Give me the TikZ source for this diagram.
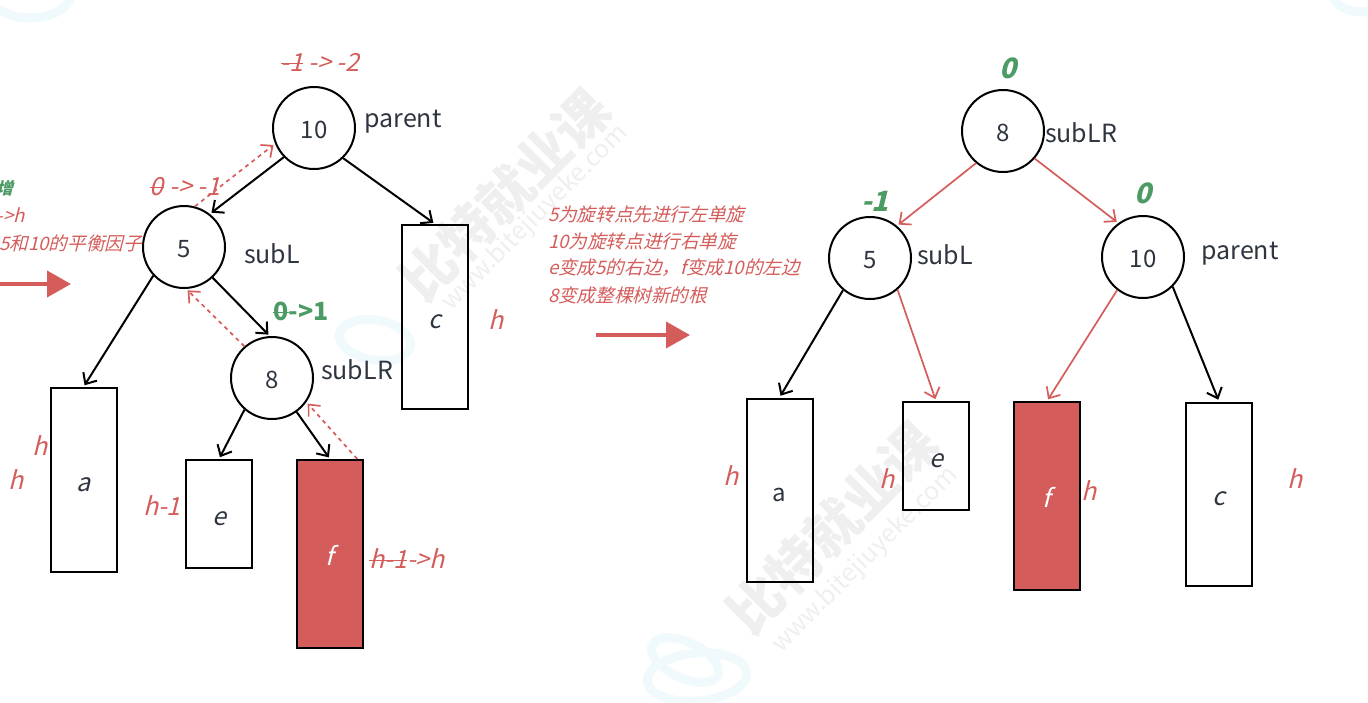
\documentclass[tikz,border=0pt]{standalone}
\usepackage{fontspec}
\setmainfont{Noto Sans CJK SC}
\newfontfamily\slanted[FakeSlant=0.25]{Noto Sans CJK SC}
\usetikzlibrary{arrows.meta, positioning, calc}
\definecolor{cred}{HTML}{D45D5B}
\definecolor{cgreen}{HTML}{4C9A64}
\definecolor{cink}{HTML}{2F3540}
\definecolor{cmark}{HTML}{EFEFEF}
\definecolor{cblob}{HTML}{F0F9FC}
\newcommand{\strk}[1]{\setbox0\hbox{#1}\rlap{\raisebox{0.3em}{\rule{\wd0}{1pt}}}#1}
\tikzset{
  every picture/.style={x=1pt, y=-1pt, line width=2pt},
  roundnode/.style={draw=black, circle, minimum size=82pt, inner sep=0pt, text=cink, text height=20pt, text depth=0pt, font=\fontsize{24}{28}\selectfont},
  block/.style={draw=black, minimum width=66pt, inner sep=0pt, text=cink, text height=22pt, text depth=0pt, font=\slanted\fontsize{25}{28}\selectfont},
  hot/.style={block, fill=cred, text=white},
  tag/.style={text=cink, inner sep=0pt, font=\fontsize{25}{28}\selectfont},
  note/.style={text=cred, inner sep=0pt, font=\slanted\fontsize{25}{28}\selectfont},
  smallnote/.style={text=cred, inner sep=0pt, anchor=west, font=\slanted\fontsize{18.6}{22}\selectfont},
  factor/.style={text=cgreen, inner sep=0pt, font=\slanted\bfseries\fontsize{28}{30}\selectfont},
  link/.style={-{Straight Barb[length=9pt, width=16pt]}, draw=black, shorten >=2pt},
  linkred/.style={link, draw=cred, line width=1.7pt},
  back/.style={link, draw=cred, line width=1.7pt, dash pattern=on 4pt off 4pt},
  fat/.style={-{Triangle[length=24pt, width=26pt]}, draw=cred, line width=4pt},
  wmark/.style={text=cmark, rotate=45, inner sep=0pt, font=\bfseries\fontsize{54}{60}\selectfont},
  wmurl/.style={text=cmark, rotate=45, inner sep=0pt, font=\fontsize{25}{28}\selectfont},
  blob/.style={draw=cblob, line width=9pt},
}
\begin{document}
\begin{tikzpicture}
  \useasboundingbox (0,0) rectangle (1368,702);

  % watermark
  \draw[blob, rotate around={-10:(375,340)}] (375,340) ellipse (36 and 20);
  \draw[blob, rotate around={-25:(685,660)}] (685,660) ellipse (36 and 18);
  \draw[blob, rotate around={5:(697,677)}] (697,677) ellipse (50 and 24);
  \draw[blob] (30,-8) ellipse (42 and 26);
  \draw[blob] (1362,-8) ellipse (30 and 20);
  \node[wmark] (m1) at (505,195) {比特就业课};
  \node[wmurl] (u1) at (535,218) {www.bitejiuyeke.com};
  \node[wmark] (m2) at (832,528) {比特就业课};
  \node[wmurl] (u2) at (865,560) {www.bitejiuyeke.com};

  % before
  \node[roundnode] (a10) at (314,128) {10};
  \node[roundnode] (a5) at (184,247) {5};
  \node[roundnode] (a8) at (272,378) {8};
  \node[block, minimum height=184pt] (aa) at (83.5,480) {a};
  \node[block, minimum height=108pt] (ae) at (219,514) {e};
  \node[hot, minimum height=188pt] (af) at (330,554) {f};
  \node[block, minimum height=184pt] (ac) at (435,317) {c};

  \node[tag] (tparent) at (403,122) {parent};
  \node[tag] (tsubl) at (272,254) {subL};
  \node[tag] (tsublr) at (357,370) {subLR};

  \draw[link] (a10.224) -- (a5.52);
  \draw[link] (a10.-46) -- (ac.north);
  \draw[link] (a5.223) -- (aa.north);
  \draw[link] (a5.-47) -- (a8.93);
  \draw[link] (a8.229) -- (ae.north);
  \draw[link] (a8.-54) -- (af.north);
  \draw[back] (a5.75) -- (a10.202);
  \draw[back] (a8.131) -- (a5.-87);
  \draw[back] (af.74) -- (a8.-35);

  \node[note] (b10) at (320,62) {\strk{-1} -> -2};
  \node[note] (b5) at (185,187) {\strk{0} -> -1};
  \node[factor, font=\bfseries\fontsize{25}{28}\selectfont] (b8) at (301,311) {\strk{0}->1};
  \node[note] (ha) at (40,446) {h};
  \node[note] (hb) at (16,480) {h};
  \node[note] (he) at (162,506) {h-1};
  \node[note] (hf) at (407,559) {\strk{h-1}->h};
  \node[note] (hc) at (496,320) {h};

  \node[factor, anchor=east, font=\slanted\bfseries\fontsize{16.5}{20}\selectfont] (n1) at (14,188) {增};
  \node[smallnote, anchor=east] (n2) at (26,215) {->h};
  \node[smallnote, anchor=east] (n3) at (143,243) {5和10的平衡因子};

  \coordinate (s1) at (0,284);
  \coordinate (e1) at (71,284);
  \draw[fat] (s1) -- (e1);

  % note in the middle
  \node[smallnote] (r1) at (547,214) {5为旋转点先进行左单旋};
  \node[smallnote] (r2) at (547,241) {10为旋转点进行右单旋};
  \node[smallnote] (r3) at (547,268) {e变成5的右边，f变成10的左边};
  \node[smallnote] (r4) at (547,295) {8变成整棵树新的根};
  \coordinate (s2) at (596,335);
  \coordinate (e2) at (690,335);
  \draw[fat] (s2) -- (e2);

  % after
  \node[roundnode] (c8) at (1003,131) {8};
  \node[roundnode] (c5) at (870,258) {5};
  \node[roundnode] (c10) at (1143,257) {10};
  \node[block, font=\fontsize{24}{28}\selectfont, minimum height=183pt] (ca) at (779.5,490) {a};
  \node[block, minimum height=108pt] (ce) at (936,456) {e};
  \node[hot, minimum height=188pt] (cf) at (1047,496) {f};
  \node[block, minimum height=183pt] (cc) at (1219,494) {c};

  \node[tag] (dsublr) at (1081,133) {subLR};
  \node[tag] (dsubl) at (945,255) {subL};
  \node[tag] (dparent) at (1240,254) {parent};

  \draw[linkred] (c8.230) -- (c5.50);
  \draw[linkred] (c8.-41) -- (c10.126);
  \draw[link] (c5.230) -- (ca.north);
  \draw[linkred] (c5.-49) -- (ce.north);
  \draw[linkred] (c10.232) -- (cf.north);
  \draw[link] (c10.-45) -- (cc.north);

  \node[factor] (f8) at (1008,68) {0};
  \node[factor] (f5) at (875,201) {-1};
  \node[factor] (f10) at (1143,193) {0};
  \node[note] (ka) at (731,476) {h};
  \node[note] (ke) at (887,479) {h};
  \node[note] (kf) at (1089,491) {h};
  \node[note] (kc) at (1295,479) {h};
\end{tikzpicture}
\end{document}
